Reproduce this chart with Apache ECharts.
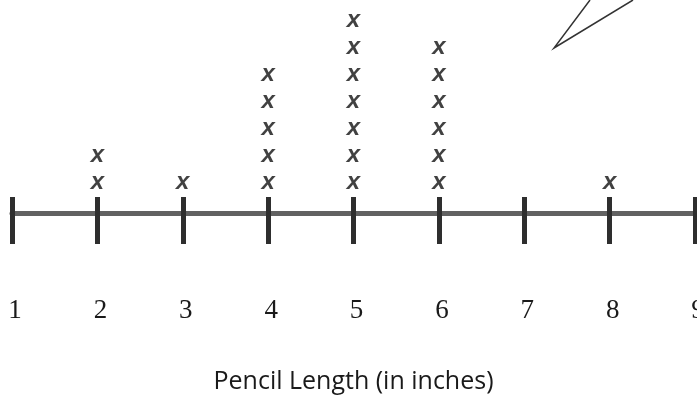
<!DOCTYPE html>
<html><head><meta charset="utf-8">
<script src="https://cdn.jsdelivr.net/npm/echarts@6/dist/echarts.min.js"></script>
<style>html,body{margin:0;padding:0;background:#fff}#c{width:697px;height:400px}</style>
</head><body><div id="c"></div>
<script>
var lengths = [1, 2, 3, 4, 5, 6, 7, 8, 9];
var counts  = [0, 2, 1, 5, 7, 6, 0, 1, 0];
var tickLabels = ['1','2','3','4','5','6','7','8','9'];
var axisTitle = 'Pencil Length (in inches)';

var points = [];
lengths.forEach(function (v, i) {
  for (var k = 1; k <= counts[i]; k++) points.push([v, k]);
});

var chart = echarts.init(document.getElementById('c'));
var baseX = {
  type: 'value', min: 1, max: 9, interval: 1, position: 'bottom',
  splitLine: { show: false }
};
chart.setOption({
  animation: false,
  backgroundColor: '#fff',
  grid: { left: 12, right: 2, top: 0, bottom: 187, containLabel: false, outerBoundsMode: 'none' },
  xAxis: [
    Object.assign({}, baseX, {
      axisLine: { show: true, onZero: false, lineStyle: { color: '#626262', width: 5 } },
      axisTick: { show: true, inside: false, length: 31, lineStyle: { color: '#2e2e2e', width: 5 } },
      axisLabel: {
        show: true, margin: 84, color: '#1a1a1a', fontSize: 27,
        fontFamily: 'Liberation Serif, DejaVu Serif, serif',
        showMinLabel: true, showMaxLabel: true, hideOverlap: false,
        padding: [0, 0, 0, 6],
        formatter: function (v) { return tickLabels[lengths.indexOf(v)] || ''; }
      },
      name: axisTitle, nameLocation: 'middle', nameGap: 156,
      nameTextStyle: { color: '#1a1a1a', fontSize: 25, fontFamily: 'Open Sans, Liberation Sans, sans-serif' }
    }),
    Object.assign({}, baseX, {
      axisLine: { show: false, onZero: false },
      axisTick: { show: true, inside: true, length: 16, lineStyle: { color: '#2e2e2e', width: 5 } },
      axisLabel: { show: false }
    })
  ],
  yAxis: { type: 'value', min: -0.13, max: 7.76, show: false },
  series: [{
    type: 'scatter',
    xAxisIndex: 0,
    data: points,
    symbolSize: 1,
    itemStyle: { color: 'rgba(0,0,0,0)' },
    label: {
      show: true, position: 'inside', formatter: 'x',
      fontSize: 24, fontStyle: 'italic', fontWeight: 'bold', color: '#111',
      fontFamily: 'Liberation Sans, Arial, sans-serif'
    }
  }],
  graphic: [{
    type: 'polyline',
    shape: { points: [[590, 0], [554, 48], [633, 0]] },
    style: { stroke: '#333', lineWidth: 1.5, fill: null }
  }]
});
</script>
</body></html>
